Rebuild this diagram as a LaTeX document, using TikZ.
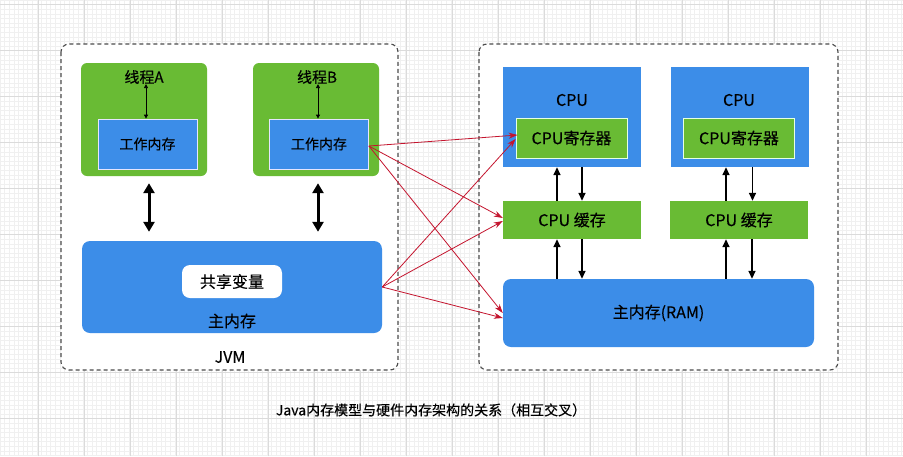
\documentclass[tikz,border=0pt]{standalone}
\usepackage{fontspec}
\setmainfont{Noto Sans CJK SC}[FakeBold=0.3]
\usetikzlibrary{positioning,arrows.meta}
\definecolor{thgreen}{HTML}{69BB34}
\definecolor{memblue}{HTML}{3C8DE8}
\definecolor{linkred}{HTML}{C4142E}

\begin{document}
\begin{tikzpicture}[x=1pt,y=-1pt,
		area/.style={draw=black!70, dash pattern=on 4pt off 3pt, line width=1.1pt, rounded corners=8pt, fill=white},
		thread/.style={fill=thgreen, rounded corners=6pt, minimum width=126pt, minimum height=113pt, inner sep=0pt},
		workmem/.style={fill=memblue, draw=blue!10, line width=0.8pt, minimum width=99pt, minimum height=50pt, font=\fontsize{14}{16}\selectfont},
		bluebox/.style={fill=memblue, minimum width=138pt, minimum height=100pt, inner sep=0pt},
		greenbox/.style={fill=thgreen, minimum width=138pt, minimum height=38pt, font=\fontsize{16}{18}\selectfont},
		reg/.style={fill=thgreen, draw=green!10, line width=0.8pt, minimum width=111pt, minimum height=40pt, font=\fontsize{16}{18}\selectfont},
		txt/.style={inner sep=0pt, font=\fontsize{16}{18}\selectfont},
		thin arrow/.style={{Triangle[length=4pt,width=4pt]}-{Triangle[length=4pt,width=4pt]}, line width=0.8pt},
		fat arrow/.style={{Triangle[length=10pt,width=11pt]}-{Triangle[length=10pt,width=11pt]}, line width=3pt},
		bus arrow/.style={-{Triangle[length=8pt,width=7pt]}, line width=1.5pt},
		link/.style={-{Stealth[length=9pt,width=6pt]}, draw=linkred, line width=0.8pt}]
	
	% background grid
	\useasboundingbox (0,0) rectangle (903,456);
	\fill[white] (0,0) rectangle (903,456);
	\draw[black!6, line width=0.3pt, step=4.6pt] (0,0) grid (903,456);
	\draw[black!14, line width=0.4pt, shift={(38,50)}, step=46pt] (-38,-50) grid (865,406);
	
	% JVM side
	\draw[area] (61,44) rectangle (398,370);
	\node[txt] (jvm) at (230,357) {JVM};
	
	\node[thread] (tA) at (144,119.5) {};
	\node[thread] (tB) at (316,119.5) {};
	\node[txt, font=\fontsize{15}{17}\selectfont] (labA) at (144,77) {线程A};
	\node[txt, font=\fontsize{15}{17}\selectfont] (labB) at (317,77) {线程B};
	\node[workmem] (wmA) at (147.5,144) {工作内存};
	\node[workmem] (wmB) at (319,144) {工作内存};
	
	\node[fill=memblue, rounded corners=8pt, minimum width=300pt, minimum height=92pt] (mm) at (232,287) {};
	\node[fill=white, rounded corners=8pt, minimum width=100pt, minimum height=33pt, font=\fontsize{16}{18}\selectfont] (shared) at (232,281.5) {共享变量};
	\node[txt] (mmlab) at (232,321) {主内存};
	
	\draw[thin arrow] (labA.south -| 146,0) -- (146,0 |- wmA.north);
	\draw[thin arrow] (labB.south -| 318,0) -- (318,0 |- wmB.north);
	\draw[fat arrow, shorten <=7pt, shorten >=9pt] ([xshift=5pt]tA.south) -- ([xshift=5pt]tA.south |- mm.north);
	\draw[fat arrow, shorten <=7pt, shorten >=9pt] ([xshift=2pt]tB.south) -- ([xshift=2pt]tB.south |- mm.north);
	
	% hardware side
	\draw[area] (479,44) rectangle (838,370);
	
	\node[bluebox] (cpu1) at (572,117) {};
	\node[bluebox] (cpu2) at (739.5,117) {};
	\node[txt] (cpulab1) at (572,100) {CPU};
	\node[txt] (cpulab2) at (739,100) {CPU};
	\node[reg] (reg1) at (571.5,138) {CPU寄存器};
	\node[reg] (reg2) at (739,138) {CPU寄存器};
	\node[greenbox] (cache1) at (572,220) {CPU 缓存};
	\node[greenbox] (cache2) at (739,220) {CPU 缓存};
	\node[fill=memblue, rounded corners=8pt, minimum width=311pt, minimum height=68pt, font=\fontsize{16}{18}\selectfont] (ram) at (658.5,313) {主内存(RAM)};
	
	\foreach \i/\l/\r in {1/-15/10, 2/-13/13} {
		\draw[bus arrow] ([xshift=\l pt]cache\i.north) -- ([xshift=\l pt]cache\i.north |- cpu\i.south);
		\draw[bus arrow] ([xshift=\r pt]cpu\i.south) -- ([xshift=\r pt]cpu\i.south |- cache\i.north);
		\draw[bus arrow] ([xshift=\l pt]ram.north -| cache\i.north) -- ([xshift=\l pt]cache\i.south);
		\draw[bus arrow] ([xshift=\r pt]cache\i.south) -- ([xshift=\r pt]cache\i.south |- ram.north);
	}
	
	% crossing links
	\draw[link] ([yshift=-2pt]wmB.east) -- ([xshift=2pt,yshift=3pt]reg1.west);
	\draw[link] ([yshift=-2pt]wmB.east) -- ([yshift=2pt]cache1.west);
	\draw[link] ([yshift=-2pt]wmB.east) -- (ram.west);
	\draw[link] (mm.east) -- ([yshift=-1pt]reg1.west);
	\draw[link] (mm.east) -- ([yshift=-1pt]cache1.west);
	\draw[link] (mm.east) -- ([yshift=-5pt]ram.west);
	
	\node[font=\fontsize{14}{16}\selectfont, inner sep=0pt] (caption) at (431,410) {Java内存模型与硬件内存架构的关系（相互交叉）};
	
\end{tikzpicture}
\end{document}
